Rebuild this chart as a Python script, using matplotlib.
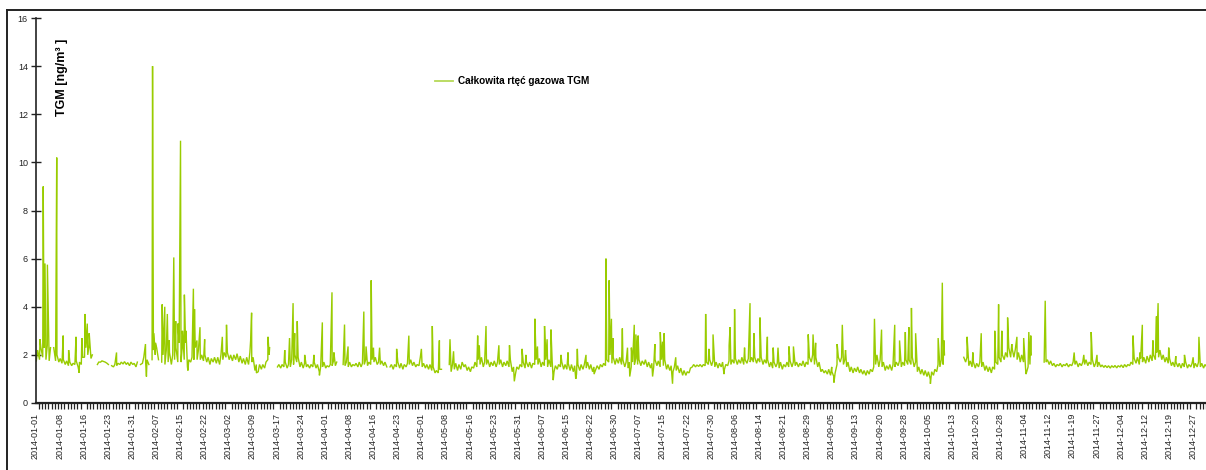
import numpy as np
import matplotlib
matplotlib.use("Agg")
import matplotlib.pyplot as plt
from matplotlib.lines import Line2D

N = float("nan")

# ---- daily band (low / high) of hourly TGM ----
lo_jan = [1.75,1.8,1.9,1.8,1.75,N,1.75,1.7,1.65,1.6,1.55,1.55,1.6,1.5,1.6,1.9,2.0,1.85,N,1.6,1.7,1.72,1.65,N,1.5,1.55,1.6,1.62,1.6,1.55,1.6]
hi_jan = [2.2,2.3,2.3,2.4,2.3,2.3,2.0,1.85,1.8,1.75,1.7,1.65,1.75,1.7,1.9,2.3,2.4,2.0,N,1.7,1.75,1.7,1.6,1.55,1.6,1.65,1.7,1.72,1.68,1.7,1.65]
lo_feb = [1.5,N,1.65,1.7,1.6,1.8,2.0,1.8,1.7,1.6,1.7,1.6,1.8,1.7,1.7,1.8,1.5,1.7,1.8,1.8,1.8,1.75,1.7,1.6,1.7,1.65,1.6,1.8]
hi_feb = [1.7,1.6,1.9,1.8,N,2.2,2.3,N,2.0,2.2,2.1,2.0,2.3,2.5,2.4,2.5,1.8,1.9,2.3,2.2,2.0,2.0,1.9,1.85,1.9,1.9,2.0,2.1]
lo_mar = [1.9,1.8,1.75,1.8,1.7,1.65,1.6,1.6,1.7,1.35,1.3,1.4,1.45,1.8,N,N,1.5,1.45,1.5,1.45,1.5,1.6,1.7,1.5,1.45,1.5,1.45,1.5,1.45,1.3,1.5]
hi_mar = [2.1,2.0,2.0,2.05,1.95,1.85,1.9,2.1,1.9,1.6,1.6,1.6,1.7,2.0,N,N,1.6,1.6,1.7,1.6,1.8,2.0,1.9,1.7,1.65,1.6,1.6,1.7,1.6,1.5,1.7]
lo_apr = [1.45,1.5,1.55,1.55,N,N,1.55,1.5,1.5,1.55,1.5,1.5,1.6,1.55,1.6,1.7,1.6,1.6,1.55,1.5,1.5,1.4,1.5,1.45,1.4,1.5,1.6,1.55,1.5,1.55]
hi_apr = [1.55,1.6,1.75,1.7,N,1.6,1.7,1.7,1.6,1.65,1.7,1.65,1.8,1.7,1.8,1.9,1.7,1.75,1.7,N,1.6,1.6,1.7,1.65,1.6,1.65,1.8,1.7,1.6,1.9]
lo_may = [1.5,1.45,1.4,1.35,1.25,1.25,1.4,N,N,1.3,1.4,1.35,1.4,1.5,1.35,1.3,1.45,1.5,1.6,1.5,1.6,1.5,1.55,1.5,1.6,1.5,1.55,1.5,1.3,1.2,1.4]
hi_may = [1.65,1.6,1.6,1.5,1.35,1.4,N,N,1.6,1.6,1.65,1.6,1.7,1.6,1.5,1.5,1.7,1.8,1.9,1.7,1.8,1.7,1.75,1.7,1.8,1.7,1.75,1.8,1.5,1.5,1.6]
lo_jun = [1.5,1.45,1.5,1.45,1.6,1.6,1.5,1.55,1.5,1.5,1.3,1.4,1.5,1.4,1.4,1.35,1.3,1.2,1.35,1.4,1.45,1.4,1.3,1.4,1.4,1.5,1.55,1.7,1.65,1.6]
hi_jun = [1.7,1.7,1.7,1.65,1.8,1.85,1.7,1.8,1.8,1.75,1.55,1.6,1.7,1.6,1.65,1.6,1.55,1.6,1.6,1.6,1.7,1.6,1.5,1.55,1.6,1.65,1.8,2.0,1.9,1.85]
lo_jul = [1.65,1.6,1.5,1.45,1.5,1.6,1.6,1.55,1.6,1.5,1.45,1.5,1.55,1.5,1.55,1.4,1.35,1.3,1.35,1.25,1.15,1.15,1.25,1.5,1.5,1.52,1.5,1.55,1.6,1.55,1.5]
hi_jul = [1.9,1.8,1.7,1.7,1.7,1.85,1.8,1.75,1.8,1.7,1.65,1.8,1.75,1.8,1.8,1.6,1.55,1.5,1.55,1.45,1.35,1.3,1.45,1.6,1.58,1.6,1.6,1.7,1.8,1.75,1.7]
lo_aug = [1.45,1.5,1.4,1.55,1.6,1.65,1.6,1.65,1.6,1.65,1.7,1.7,1.65,1.7,1.6,1.65,1.5,1.45,1.5,1.45,1.4,1.5,1.5,1.5,1.55,1.5,1.55,1.5,1.6,1.7,1.6]
hi_aug = [1.65,1.7,1.6,1.75,1.8,1.85,1.8,1.9,1.8,1.85,1.9,1.9,1.85,1.9,1.8,1.8,1.7,1.7,1.65,1.7,1.6,1.7,1.75,1.7,1.7,1.65,1.75,1.7,1.9,2.0,1.9]
lo_sep = [1.5,1.3,1.25,1.2,1.15,1.1,1.6,1.7,1.6,1.5,1.3,1.25,1.3,1.25,1.2,1.15,1.2,1.3,1.6,1.5,1.5,1.35,1.4,1.35,1.5,1.55,1.5,1.55,1.6,1.6]
hi_sep = [1.7,1.4,1.35,1.4,1.3,1.25,1.9,1.9,1.8,1.7,1.5,1.45,1.5,1.4,1.35,1.35,1.4,1.5,2.0,1.8,1.7,1.55,1.6,1.6,1.7,1.75,1.7,1.8,1.8,1.9]
lo_oct = [1.5,1.3,1.2,1.15,1.1,1.0,1.15,1.3,1.5,1.6,N,N,N,N,N,N,1.7,1.55,1.5,1.45,1.5,1.5,1.35,1.3,1.25,1.4,1.6,1.7,1.8,1.9,1.9]
hi_oct = [1.7,1.5,1.4,1.35,1.3,1.3,1.4,1.6,1.8,2.0,N,N,N,N,N,1.9,1.9,1.75,1.7,1.65,1.7,1.7,1.55,1.5,1.5,1.7,1.9,2.0,2.1,2.3,2.3]
lo_nov = [1.9,1.8,1.7,1.7,1.3,1.6,N,N,N,N,1.7,1.6,1.55,1.5,1.55,1.5,1.55,1.5,1.55,1.6,1.5,1.55,1.6,1.55,1.6,1.5,1.5,1.5,1.48,1.47]
hi_nov = [2.2,2.1,2.0,1.9,1.5,2.0,N,N,N,1.7,1.8,1.75,1.65,1.6,1.65,1.6,1.65,1.6,1.7,1.75,1.65,1.7,1.8,1.7,1.8,1.65,1.7,1.58,1.56,1.55]
lo_dec = [1.45,1.48,1.46,1.5,1.47,1.5,1.55,1.6,1.65,1.6,1.7,1.65,1.7,1.75,1.8,1.9,1.8,1.7,1.65,1.55,1.5,1.5,1.45,1.5,1.45,1.5,1.45,1.5,1.5,1.45,1.5]
hi_dec = [1.55,1.56,1.55,1.58,1.6,1.6,1.7,1.85,1.9,1.85,1.9,1.95,2.0,2.0,2.1,2.2,2.0,1.9,1.85,1.7,1.7,1.65,1.65,1.7,1.6,1.65,1.65,1.7,1.65,1.6,1.6]

# ---- short peaks / dips (day of year as fraction, value) ----
spike_day = [1.4, 2.4, 2.95, 3.7, 6.6, 8.6, 10.3, 12.6, 13.6, 14.4,
             15.4, 16.1, 16.7, 25.2, 34.2, 34.5, 36.4, 36.8, 37.3, 39.4,
             40.2, 41.0, 41.6, 43.0, 43.6, 44.3, 45.1, 45.7, 46.3, 46.8,
             47.4, 49.1, 49.45, 50.2, 51.15, 52.6, 58.1, 59.4,
             66.9, 67.2, 68.7, 72.3, 72.8, 77.5, 79.0, 80.1, 80.6, 81.4,
             83.7, 86.6, 88.3, 89.2, 92.2, 92.8, 96.1, 97.2, 102.1, 102.8,
             104.4, 105.1, 107.0, 112.3, 116.1,
             120.0, 123.4, 125.6, 128.9, 130.0, 137.5, 138.0, 140.1, 144.1, 147.4,
             148.9, 151.3, 152.5, 155.3, 156.1, 158.3, 159.1, 160.3, 161.0, 163.4,
             165.6, 168.0, 168.5, 171.2, 173.7, 177.4, 178.4, 179.1, 179.6,
             182.5, 184.1, 184.8, 185.3, 186.2, 186.7, 187.4, 191.9, 192.6, 194.3,
             195.0, 195.5, 198.1, 199.1, 208.4, 209.4, 210.7, 214.1, 215.7, 216.0,
             217.4, 220.5, 222.2, 223.4, 225.3, 227.6, 229.4, 230.9, 234.3, 235.7,
             240.3,
             241.8, 242.6, 247.6, 248.3, 249.3, 250.9, 251.9, 260.9, 263.1, 267.2,
             268.7, 270.5, 271.6, 272.4, 273.7, 278.3, 280.7, 282.0, 282.5, 289.7,
             291.5, 294.1, 298.3, 299.5, 300.5, 302.3,
             303.6, 305.2, 307.3, 308.0, 308.9, 309.5, 314.0, 323.0, 326.0, 328.3,
             330.1, 341.3, 343.5, 344.2, 347.5, 348.6, 349.1, 352.4, 354.6, 357.3,
             360.0, 361.8]
spike_val = [2.65, 9.0, 5.8, 5.75, 10.2, 2.8, 2.2, 2.75, 1.25, 2.7,
             3.7, 3.3, 2.9, 2.1, 2.45, 1.1, 14.0, 2.9, 2.5, 4.1,
             4.0, 3.7, 2.6, 6.05, 3.4, 3.3, 10.9, 3.0, 4.5, 3.0,
             1.35, 4.75, 3.9, 2.6, 3.15, 2.65, 2.75, 3.25,
             2.6, 3.75, 1.25, 2.75, 2.3, 2.2, 2.7, 4.15, 2.9, 3.4,
             2.0, 2.0, 1.15, 3.35, 4.6, 2.1, 3.26, 2.35, 3.8, 2.35,
             5.1, 2.3, 2.3, 2.25, 2.8,
             2.25, 3.2, 2.6, 2.65, 2.15, 2.8, 2.4, 3.2, 2.4, 2.4,
             0.9, 2.25, 2.0, 3.5, 2.35, 3.2, 2.65, 3.05, 0.95, 2.0,
             2.1, 1.0, 2.25, 2.0, 1.2, 6.0, 5.1, 3.5, 2.7,
             3.1, 2.3, 1.1, 2.3, 3.25, 2.85, 2.8, 1.1, 2.45, 2.95,
             2.55, 2.9, 0.8, 1.9, 3.7, 2.25, 2.85, 1.2, 2.4, 3.15,
             3.9, 2.3, 4.15, 2.9, 3.55, 2.75, 2.3, 2.3, 2.35, 2.35,
             2.85,
             2.85, 2.5, 1.5, 0.85, 2.45, 3.25, 2.2, 3.5, 3.05, 3.25,
             2.6, 2.95, 3.15, 3.95, 2.9, 0.8, 2.7, 5.0, 2.6, 2.75,
             2.1, 2.9, 3.0, 4.1, 3.0, 3.55,
             2.45, 2.75, 2.7, 1.2, 2.95, 2.8, 4.25, 2.1, 2.0, 2.95,
             2.0, 2.8, 2.1, 3.25, 2.6, 3.6, 4.15, 2.3, 1.95, 2.0,
             1.9, 2.75]

tick_labels = ["2014-01-01","2014-01-08","2014-01-16","2014-01-23","2014-01-31","2014-02-07",
               "2014-02-15","2014-02-22","2014-03-02","2014-03-09","2014-03-17","2014-03-24",
               "2014-04-01","2014-04-08","2014-04-16","2014-04-23","2014-05-01","2014-05-08",
               "2014-05-16","2014-05-23","2014-05-31","2014-06-07","2014-06-15","2014-06-22",
               "2014-06-30","2014-07-07","2014-07-15","2014-07-22","2014-07-30","2014-08-06",
               "2014-08-14","2014-08-21","2014-08-29","2014-09-05","2014-09-13","2014-09-20",
               "2014-09-28","2014-10-05","2014-10-13","2014-10-20","2014-10-28","2014-11-04",
               "2014-11-12","2014-11-19","2014-11-27","2014-12-04","2014-12-12","2014-12-19",
               "2014-12-27"]

series_label = "Całkowita rtęć gazowa TGM"
y_label = "TGM [ng/m³ ]"

# ---- assemble the series ----
lo = np.array(lo_jan + lo_feb + lo_mar + lo_apr + lo_may + lo_jun +
              lo_jul + lo_aug + lo_sep + lo_oct + lo_nov + lo_dec, dtype=float)
hi = np.array(hi_jan + hi_feb + hi_mar + hi_apr + hi_may + hi_jun +
              hi_jul + hi_aug + hi_sep + hi_oct + hi_nov + hi_dec, dtype=float)
assert len(spike_day) == len(spike_val)
days = np.arange(len(lo))
t = np.concatenate([days + 0.25, days + 0.67, np.array(spike_day)])
v = np.concatenate([lo, hi, np.array(spike_val)])
order = np.argsort(t, kind="stable")
hours = t[order] * 24.0
vals = v[order]

plt.rcParams["font.family"] = ["Liberation Sans", "DejaVu Sans"]

W, H = 1206, 470
fig = plt.figure(figsize=(W / 100, H / 100), dpi=100)
x0, ybot, ytop = 35.5, 403, 18
ax = fig.add_axes([x0 / W, 1 - ybot / H, 1 - x0 / W, (ybot - ytop) / H])

ax.plot(hours, vals, color="#99cc00", lw=1.0, solid_joinstyle="miter")

px_per_hour = (1195 - 35.5) / 8640.0
ax.set_xlim(0, (W - x0) / px_per_hour)
ax.set_ylim(0, 16)

ax.set_yticks(np.arange(0, 17, 2))
ax.tick_params(axis="y", direction="inout", length=7, width=1.0, pad=2,
               labelsize=6.5, colors="#222222")
ax.set_xticks([k * 180 for k in range(len(tick_labels))])
ax.set_xticklabels(tick_labels, rotation=90)
ax.set_xticks(np.arange(0, 8760, 24), minor=True)
ax.tick_params(axis="x", which="major", length=0, pad=7, labelsize=6.5, colors="#222222")
ax.tick_params(axis="x", which="minor", direction="out", length=4, width=0.9, color="#222222")

for s in ("top", "right"):
    ax.spines[s].set_visible(False)
ax.spines["left"].set_linewidth(1.2)
ax.spines["left"].set_color("#222222")
ax.spines["bottom"].set_linewidth(1.6)
ax.spines["bottom"].set_color("#222222")

ax.text((62 - x0) / (W - x0), (ybot - 77) / (ybot - ytop), y_label, rotation=90,
        transform=ax.transAxes, ha="center", va="center",
        fontsize=9, fontweight="bold", color="black")

proxy = Line2D([], [], color="#b5d957", lw=1.3)
ax.legend([proxy], [series_label], loc="center left",
          bbox_to_anchor=((435 - x0) / (W - x0), (ybot - 81) / (ybot - ytop)),
          frameon=False, borderpad=0, borderaxespad=0, handlelength=1.8,
          handletextpad=0.45, prop={"weight": "bold", "size": 7.2})

# outer chart-area border (only left and top visible in the crop)
bx, by = 7 / W, 1 - 10 / H
fig.add_artist(Line2D([bx, bx], [0, by], transform=fig.transFigure, color="#222222", lw=1.4))
fig.add_artist(Line2D([bx, 1], [by, by], transform=fig.transFigure, color="#222222", lw=1.4))

fig.savefig("out.png", dpi=100)
